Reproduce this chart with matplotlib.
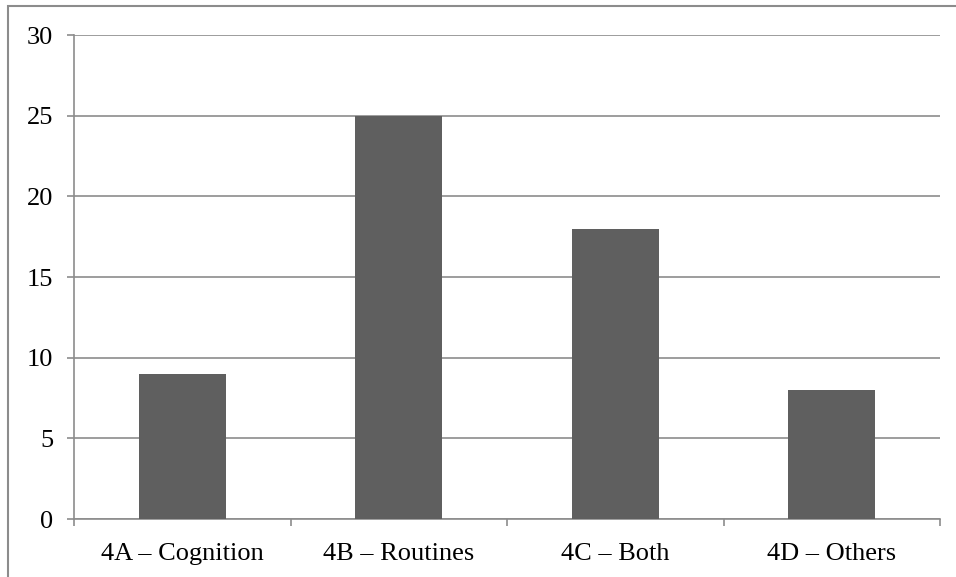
import matplotlib
matplotlib.use("Agg")
import matplotlib.pyplot as plt
from matplotlib.patches import Rectangle

categories = ["4A – Cognition", "4B – Routines", "4C – Both", "4D – Others"]
values = [9, 25, 18, 8]
y_ticks = [0, 5, 10, 15, 20, 25, 30]

plt.rcParams["font.family"] = ["Liberation Serif", "DejaVu Serif"]

fig = plt.figure(figsize=(9.56, 5.77), dpi=100)
W, H = 956, 577
ax = fig.add_axes([74 / W, 1 - 519 / H, (940 - 74) / W, (519 - 35) / H])

grid_c = "#8c8c8c"
x = range(len(categories))
ax.bar(x, values, width=0.4, color="#5f5f5f", zorder=3)

ax.set_xlim(-0.5, len(categories) - 0.5)
ax.set_ylim(0, 30)
ax.set_yticks(y_ticks)
ax.set_yticklabels([str(v) for v in y_ticks], fontsize=19)
ax.yaxis.grid(True, color=grid_c, linewidth=1.2, zorder=0)
ax.set_axisbelow(True)

ax.set_xticks([i - 0.5 for i in range(len(categories) + 1)])
ax.set_xticklabels([])
ax.set_xticks(list(x), minor=True)
ax.set_xticklabels(categories, minor=True, fontsize=19)
ax.tick_params(axis="x", which="minor", length=0, pad=17)
ax.tick_params(axis="x", which="major", length=5, width=1.2, color=grid_c)
ax.tick_params(axis="y", length=5, width=1.2, color=grid_c, pad=10)

for s in ["top", "right"]:
    ax.spines[s].set_visible(False)
for s in ["left", "bottom"]:
    ax.spines[s].set_color(grid_c)
    ax.spines[s].set_linewidth(1.2)

# outer frame, running off the right and bottom edges
fig.patches.append(Rectangle((8 / W, -0.1), 1.1, 1 - 6 / H + 0.1,
                             transform=fig.transFigure, fill=False,
                             edgecolor=grid_c, linewidth=1.5))

fig.savefig("out.png", dpi=100)
